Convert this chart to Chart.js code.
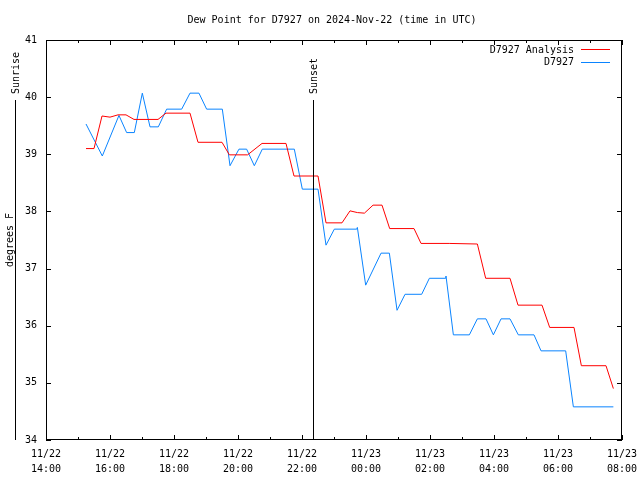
<!DOCTYPE html>
<html>
<head>
<meta charset="utf-8">
<script src="https://cdn.jsdelivr.net/npm/chart.js@4"></script>
<style>
  body { margin: 0; background: #fff; }
</style>
</head>
<body>
<canvas id="dew" width="640" height="480"></canvas>
<script>
// hours after 11/22 14:00 UTC
var tickLabels = [['11/22','14:00'], ['11/22','16:00'], ['11/22','18:00'], ['11/22','20:00'], ['11/22','22:00'],
                  ['11/23','00:00'], ['11/23','02:00'], ['11/23','04:00'], ['11/23','06:00'], ['11/23','08:00']];

var analysisHours  = [1.25, 1.5, 1.75, 2.0, 2.25, 2.5, 2.75, 3.5, 3.75, 4.5, 4.75, 5.5, 5.73, 6.3, 6.75, 7.5, 7.75, 8.5,
                      8.75, 9.25, 9.5, 9.73, 9.95, 10.22, 10.5, 10.74, 11.5, 11.72, 12.6, 13.48, 13.74, 14.5, 14.75,
                      15.5, 15.74, 16.5, 16.73, 17.5, 17.73];
var analysisValues = [39.10, 39.10, 39.67, 39.65, 39.69, 39.69, 39.61, 39.61, 39.72, 39.72, 39.21, 39.21, 38.99, 38.99,
                      39.19, 39.19, 38.62, 38.62, 37.80, 37.80, 38.01, 37.98, 37.97, 38.11, 38.11, 37.70, 37.70, 37.44,
                      37.44, 37.43, 36.83, 36.83, 36.36, 36.36, 35.97, 35.97, 35.30, 35.30, 34.90];

var obsHours  = [1.25, 1.76, 2.28, 2.52, 2.76, 3.01, 3.25, 3.51, 3.77, 4.24, 4.5, 4.78, 5.02, 5.51, 5.75, 6.03, 6.27,
                 6.51, 6.76, 7.76, 8.01, 8.5, 8.75, 9.01, 9.71, 9.73, 9.99, 10.47, 10.73, 10.97, 11.22, 11.74, 11.98,
                 12.49, 12.5, 12.73, 13.23, 13.48, 13.75, 13.98, 14.22, 14.5, 14.76, 15.25, 15.47, 16.24, 16.48, 17.73];
var obsValues = [39.53, 38.97, 39.68, 39.38, 39.38, 40.07, 39.48, 39.48, 39.79, 39.79, 40.07, 40.07, 39.79, 39.79,
                 38.80, 39.09, 39.09, 38.80, 39.09, 39.09, 38.39, 38.39, 37.41, 37.69, 37.69, 37.72, 36.71, 37.27,
                 37.27, 36.27, 36.55, 36.55, 36.83, 36.83, 36.87, 35.84, 35.84, 36.12, 36.12, 35.84, 36.12, 36.12,
                 35.84, 35.84, 35.56, 35.56, 34.58, 34.58];

var sunriseHour = -0.97;
var sunsetHour = 8.34;

var FONT = '10px "DejaVu Sans Mono", monospace';

function pairs(xs, ys) {
  return xs.map(function (x, i) { return { x: x, y: ys[i] }; });
}

var decor = {
  id: 'decor',
  afterDraw: function (chart) {
    var c = chart.ctx, a = chart.chartArea;
    var xs = chart.scales.x, ys = chart.scales.y;
    c.save();
    c.strokeStyle = '#000';
    c.lineWidth = 1;
    c.strokeRect(a.left + 0.5, a.top + 0.5, a.right - a.left - 1, a.bottom - a.top - 1);

    c.beginPath();
    for (var h = 0; h <= 18; h++) {
      var px = Math.round(xs.getPixelForValue(h)) + 0.5;
      var len = h % 2 === 0 ? 5 : 3;
      c.moveTo(px, a.bottom); c.lineTo(px, a.bottom - len);
      c.moveTo(px, a.top); c.lineTo(px, a.top + len);
    }
    for (var v = 34; v <= 41; v++) {
      var py = Math.round(ys.getPixelForValue(v)) + 0.5;
      c.moveTo(a.left, py); c.lineTo(a.left + 5, py);
      c.moveTo(a.right, py); c.lineTo(a.right - 5, py);
    }
    c.stroke();

    // sunrise / sunset markers
    c.font = FONT;
    c.fillStyle = '#000';
    [[sunriseHour, 'Sunrise'], [sunsetHour, 'Sunset']].forEach(function (m) {
      var px = Math.round(xs.getPixelForValue(m[0])) + 0.5;
      var top = ys.getPixelForValue(39.95);
      c.beginPath();
      c.moveTo(px, top); c.lineTo(px, a.bottom);
      c.stroke();
      c.save();
      c.translate(px + 1, top - 6);
      c.rotate(-Math.PI / 2);
      c.textAlign = 'left';
      c.textBaseline = 'middle';
      c.fillText(m[1], 0, 0);
      c.restore();
    });

    // title
    c.textAlign = 'center';
    c.textBaseline = 'middle';
    c.fillText('Dew Point for D7927 on 2024-Nov-22 (time in UTC)', 332, 20);

    // y title
    c.save();
    c.translate(10, 240);
    c.rotate(-Math.PI / 2);
    c.fillText('degrees F', 0, 0);
    c.restore();

    // key
    chart.data.datasets.forEach(function (ds, i) {
      var ky = 50 + i * 12.5;
      c.textAlign = 'right';
      c.fillStyle = '#000';
      c.fillText(ds.label, 574, ky);
      c.strokeStyle = ds.borderColor;
      c.beginPath();
      c.moveTo(581, Math.round(ky) - 0.5); c.lineTo(610, Math.round(ky) - 0.5);
      c.stroke();
    });
    c.restore();
  }
};

new Chart(document.getElementById('dew'), {
  type: 'line',
  data: {
    datasets: [{
      label: 'D7927 Analysis',
      data: pairs(analysisHours, analysisValues),
      borderColor: '#ff0000',
      borderWidth: 1,
      pointRadius: 0,
      tension: 0
    }, {
      label: 'D7927',
      data: pairs(obsHours, obsValues),
      borderColor: '#0a84ff',
      borderWidth: 1,
      pointRadius: 0,
      tension: 0
    }]
  },
  options: {
    responsive: false,
    animation: false,
    layout: { padding: { top: 40, right: 0, left: 0, bottom: 0 } },
    plugins: { legend: { display: false }, tooltip: { enabled: false } },
    scales: {
      x: {
        type: 'linear',
        min: 0, max: 18,
        grid: { display: false, drawTicks: false },
        border: { display: false },
        afterFit: function (s) { s.height = 40; s.paddingRight = 18; },
        ticks: {
          stepSize: 2,
          autoSkip: false,
          maxRotation: 0,
          padding: 7,
          color: '#000',
          font: { family: '"DejaVu Sans Mono", monospace', size: 10, lineHeight: 1.5 },
          callback: function (v) { return tickLabels[v / 2]; }
        }
      },
      y: {
        min: 34, max: 41,
        grid: { display: false, drawTicks: false },
        border: { display: false },
        afterFit: function (s) { s.width = 46; },
        ticks: {
          stepSize: 1,
          padding: 9,
          color: '#000',
          font: { family: '"DejaVu Sans Mono", monospace', size: 10 }
        }
      }
    }
  },
  plugins: [decor]
});
</script>
</body>
</html>
